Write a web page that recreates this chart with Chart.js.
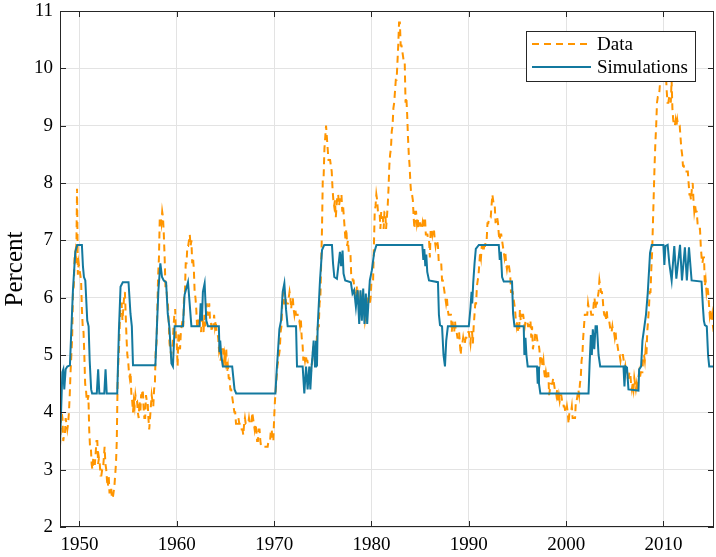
<!DOCTYPE html>
<html>
<head>
<meta charset="utf-8">
<script src="https://cdn.jsdelivr.net/npm/chart.js@4.4.0/dist/chart.umd.min.js"></script>
<style>
  html, body { margin: 0; padding: 0; background: #fff; }
  #wrap { width: 716px; height: 557px; position: relative; }
</style>
</head>
<body>
<div id="wrap"><canvas id="unempChart"></canvas></div>
<script>
// Monthly unemployment rate, Jan 1948 .. Mar 2015 (percent)
const startYear = 1948;
const unemploymentRate = [
  3.4, 3.8, 4.0, 3.9, 3.5, 3.6, 3.6, 3.9, 3.8, 3.7, 3.8, 4.0,   // 1948
  4.3, 4.7, 5.0, 5.3, 6.1, 6.2, 6.7, 6.8, 6.6, 7.9, 6.4, 6.6,   // 1949
  6.5, 6.4, 6.3, 5.8, 5.5, 5.4, 5.0, 4.5, 4.4, 4.2, 4.2, 4.3,
  3.7, 3.4, 3.4, 3.1, 3.0, 3.2, 3.1, 3.1, 3.3, 3.5, 3.5, 3.1,
  3.2, 3.1, 2.9, 2.9, 3.0, 3.0, 3.2, 3.4, 3.1, 3.0, 2.8, 2.7,
  2.9, 2.6, 2.6, 2.7, 2.5, 2.5, 2.6, 2.7, 2.9, 3.1, 3.5, 4.5,
  4.9, 5.2, 5.7, 5.9, 5.9, 5.6, 5.8, 6.0, 6.1, 5.7, 5.3, 5.0,
  4.9, 4.7, 4.6, 4.7, 4.3, 4.2, 4.0, 4.2, 4.1, 4.3, 4.2, 4.2,
  4.0, 3.9, 4.2, 4.0, 4.3, 4.3, 4.4, 4.1, 3.9, 3.9, 4.3, 4.2,
  4.2, 3.9, 3.7, 3.9, 4.1, 4.3, 4.2, 4.1, 4.4, 4.5, 5.1, 5.2,
  5.8, 6.4, 6.7, 7.4, 7.4, 7.3, 7.5, 7.4, 7.1, 6.7, 6.2, 6.2,
  6.0, 5.9, 5.6, 5.2, 5.1, 5.0, 5.1, 5.2, 5.5, 5.7, 5.8, 5.3,
  5.2, 4.8, 5.4, 5.2, 5.1, 5.4, 5.5, 5.6, 5.5, 6.1, 6.1, 6.6,   // 1960
  6.6, 6.9, 6.9, 7.0, 7.1, 6.9, 7.0, 6.6, 6.7, 6.5, 6.1, 6.0,
  5.8, 5.5, 5.6, 5.6, 5.5, 5.5, 5.4, 5.7, 5.6, 5.4, 5.7, 5.5,
  5.7, 5.9, 5.7, 5.7, 5.9, 5.6, 5.6, 5.4, 5.5, 5.5, 5.7, 5.5,
  5.6, 5.4, 5.4, 5.3, 5.1, 5.2, 4.9, 5.0, 5.1, 5.1, 4.8, 5.0,
  4.9, 5.1, 4.7, 4.8, 4.6, 4.6, 4.4, 4.4, 4.3, 4.2, 4.1, 4.0,
  4.0, 3.8, 3.8, 3.8, 3.9, 3.8, 3.8, 3.8, 3.7, 3.7, 3.6, 3.8,
  3.9, 3.8, 3.8, 3.8, 3.8, 3.9, 3.8, 3.8, 3.8, 4.0, 3.9, 3.8,
  3.7, 3.8, 3.7, 3.5, 3.5, 3.7, 3.7, 3.5, 3.4, 3.4, 3.4, 3.4,
  3.4, 3.4, 3.4, 3.4, 3.4, 3.5, 3.5, 3.5, 3.7, 3.7, 3.5, 3.5,
  3.9, 4.2, 4.4, 4.6, 4.8, 4.9, 5.0, 5.1, 5.4, 5.5, 5.9, 6.1,   // 1970
  5.9, 5.9, 6.0, 5.9, 5.9, 5.9, 6.0, 6.1, 6.0, 5.8, 6.0, 6.0,
  5.8, 5.7, 5.8, 5.7, 5.7, 5.7, 5.6, 5.6, 5.5, 5.6, 5.3, 5.2,
  4.9, 5.0, 4.9, 5.0, 4.9, 4.9, 4.8, 4.8, 4.8, 4.6, 4.8, 4.9,
  5.1, 5.2, 5.1, 5.1, 5.1, 5.4, 5.5, 5.5, 5.9, 6.0, 6.6, 7.2,
  8.1, 8.1, 8.6, 8.8, 9.0, 8.8, 8.6, 8.4, 8.4, 8.4, 8.3, 8.2,
  7.9, 7.7, 7.6, 7.7, 7.4, 7.6, 7.8, 7.8, 7.6, 7.7, 7.8, 7.8,
  7.5, 7.6, 7.4, 7.2, 7.0, 7.2, 6.9, 7.0, 6.8, 6.8, 6.8, 6.4,
  6.4, 6.3, 6.3, 6.1, 6.0, 5.9, 6.2, 5.9, 6.0, 5.8, 5.9, 6.0,
  5.9, 5.9, 5.8, 5.8, 5.6, 5.7, 5.7, 6.0, 5.9, 6.0, 5.9, 6.0,
  6.3, 6.3, 6.3, 6.9, 7.5, 7.6, 7.8, 7.7, 7.5, 7.5, 7.5, 7.2,   // 1980
  7.5, 7.4, 7.4, 7.2, 7.5, 7.5, 7.2, 7.4, 7.6, 7.9, 8.3, 8.5,
  8.6, 8.9, 9.0, 9.3, 9.4, 9.6, 9.8, 9.8, 10.1, 10.4, 10.8, 10.8,
  10.4, 10.4, 10.3, 10.2, 10.1, 10.1, 9.4, 9.5, 9.2, 8.8, 8.5, 8.3,
  8.0, 7.8, 7.8, 7.7, 7.4, 7.2, 7.5, 7.5, 7.3, 7.4, 7.2, 7.3,
  7.3, 7.2, 7.2, 7.3, 7.2, 7.4, 7.4, 7.1, 7.1, 7.1, 7.0, 7.0,
  6.7, 7.2, 7.2, 7.1, 7.2, 7.2, 7.0, 6.9, 7.0, 7.0, 6.9, 6.6,
  6.6, 6.6, 6.6, 6.3, 6.3, 6.2, 6.1, 6.0, 5.9, 6.0, 5.8, 5.7,
  5.7, 5.7, 5.7, 5.4, 5.6, 5.4, 5.4, 5.6, 5.4, 5.4, 5.3, 5.3,
  5.4, 5.2, 5.0, 5.2, 5.2, 5.3, 5.2, 5.2, 5.3, 5.3, 5.4, 5.4,
  5.4, 5.3, 5.2, 5.4, 5.4, 5.2, 5.5, 5.7, 5.9, 5.9, 6.2, 6.3,   // 1990
  6.4, 6.6, 6.8, 6.7, 6.9, 6.9, 6.8, 6.9, 6.9, 7.0, 7.0, 7.3,
  7.3, 7.4, 7.4, 7.4, 7.6, 7.8, 7.7, 7.6, 7.6, 7.3, 7.4, 7.4,
  7.3, 7.1, 7.0, 7.1, 7.1, 7.0, 6.9, 6.8, 6.7, 6.8, 6.6, 6.5,
  6.6, 6.6, 6.5, 6.4, 6.1, 6.1, 6.1, 6.0, 5.9, 5.8, 5.6, 5.5,
  5.6, 5.4, 5.4, 5.8, 5.6, 5.6, 5.7, 5.7, 5.6, 5.5, 5.6, 5.6,
  5.6, 5.5, 5.5, 5.6, 5.6, 5.3, 5.5, 5.1, 5.2, 5.2, 5.4, 5.4,
  5.3, 5.2, 5.2, 5.1, 4.9, 5.0, 4.9, 4.8, 4.9, 4.7, 4.6, 4.7,
  4.6, 4.6, 4.7, 4.3, 4.4, 4.5, 4.5, 4.5, 4.6, 4.5, 4.4, 4.4,
  4.3, 4.4, 4.2, 4.3, 4.2, 4.3, 4.3, 4.2, 4.2, 4.1, 4.1, 4.0,
  4.0, 4.1, 4.0, 3.8, 4.0, 4.0, 4.0, 4.1, 3.9, 3.9, 3.9, 3.9,   // 2000
  4.2, 4.2, 4.3, 4.4, 4.3, 4.5, 4.6, 4.9, 5.0, 5.3, 5.5, 5.7,
  5.7, 5.7, 5.7, 5.9, 5.8, 5.8, 5.8, 5.7, 5.7, 5.7, 5.9, 6.0,
  5.8, 5.9, 5.9, 6.0, 6.1, 6.3, 6.2, 6.1, 6.1, 6.0, 5.8, 5.7,
  5.7, 5.6, 5.8, 5.6, 5.6, 5.6, 5.5, 5.4, 5.4, 5.5, 5.4, 5.4,
  5.3, 5.4, 5.2, 5.2, 5.1, 5.0, 5.0, 4.9, 5.0, 5.0, 5.0, 4.9,
  4.7, 4.8, 4.7, 4.7, 4.6, 4.6, 4.7, 4.7, 4.5, 4.4, 4.5, 4.4,
  4.6, 4.5, 4.4, 4.5, 4.4, 4.6, 4.7, 4.6, 4.7, 4.7, 4.7, 5.0,
  5.0, 4.9, 5.1, 5.0, 5.4, 5.6, 5.8, 6.1, 6.1, 6.5, 6.8, 7.3,
  7.8, 8.3, 8.7, 9.0, 9.4, 9.5, 9.5, 9.6, 9.8, 10.0, 9.9, 9.9,
  9.8, 9.8, 9.9, 9.9, 9.6, 9.4, 9.4, 9.5, 9.5, 9.4, 9.8, 9.3,   // 2010
  9.1, 9.0, 9.0, 9.1, 9.0, 9.1, 9.0, 9.0, 9.0, 8.8, 8.6, 8.5,
  8.3, 8.3, 8.2, 8.2, 8.2, 8.2, 8.2, 8.0, 7.8, 7.8, 7.7, 7.9,
  8.0, 7.7, 7.5, 7.6, 7.5, 7.5, 7.3, 7.2, 7.2, 7.2, 6.9, 6.7,
  6.6, 6.7, 6.7, 6.2, 6.3, 6.1, 6.2, 6.1, 5.9, 5.7, 5.8, 5.6,
  5.7, 5.5, 5.4                                                   // 2015
];

// Simulated path: turning points
const simYears = [
  1948.00, 1948.24, 1948.34, 1948.44, 1948.58, 1948.75, 1949.02, 1949.16, 1949.33, 1949.57,
  1949.77, 1950.25, 1950.36, 1950.46, 1950.60, 1950.80, 1950.94, 1951.05, 1951.20, 1951.30,
  1951.78, 1951.92, 1952.04, 1952.55, 1952.68, 1952.80, 1953.88, 1954.05, 1954.22, 1954.45,
  1955.04, 1955.24, 1955.38, 1955.50, 1957.80, 1957.94, 1958.11, 1958.31, 1958.48, 1958.66,
  1958.90, 1959.07, 1959.24, 1959.45, 1959.60, 1959.78, 1960.63, 1960.80, 1961.15, 1961.32,
  1961.50, 1962.34, 1962.45, 1962.58, 1962.68, 1962.86, 1963.03, 1963.20, 1964.32, 1964.39,
  1964.46, 1964.56, 1964.73, 1965.69, 1965.93, 1966.10, 1970.13, 1970.27, 1970.37, 1970.54,
  1970.71, 1970.88, 1971.05, 1971.22, 1971.39, 1972.25, 1972.35, 1972.93, 1973.10, 1973.28,
  1973.44, 1973.61, 1973.72, 1973.85, 1974.06, 1974.20, 1974.30, 1974.40, 1974.47, 1974.71,
  1974.92, 1975.15, 1975.94, 1976.05, 1976.18, 1976.45, 1976.76, 1976.88, 1977.03, 1977.13,
  1977.30, 1977.88, 1978.05, 1978.22, 1978.40, 1978.57, 1978.74, 1978.87, 1979.01, 1979.15,
  1979.28, 1979.42, 1979.56, 1979.70, 1979.83, 1980.04, 1980.27, 1980.51, 1985.22, 1985.33,
  1985.43, 1985.53, 1985.63, 1985.73, 1985.91, 1986.83, 1986.93, 1987.04, 1987.25, 1987.40,
  1987.55, 1987.68, 1987.85, 1990.00, 1990.18, 1990.28, 1990.35, 1990.45, 1990.59, 1990.72,
  1991.03, 1993.08, 1993.18, 1993.29, 1993.42, 1993.59, 1994.44, 1994.55, 1994.69, 1995.64,
  1995.71, 1995.82, 1995.92, 1996.05, 1997.00, 1997.08, 1997.15, 1997.21, 1997.35, 2002.30,
  2002.41, 2002.54, 2002.64, 2002.74, 2002.89, 2003.02, 2003.16, 2003.33, 2003.50, 2005.89,
  2005.99, 2006.10, 2006.25, 2006.40, 2007.43, 2007.50, 2007.70, 2007.84, 2008.04, 2008.20,
  2008.38, 2008.62, 2008.79, 2009.99, 2010.09, 2010.20, 2010.43, 2010.60, 2010.84, 2011.11,
  2011.32, 2011.70, 2011.90, 2012.20, 2012.40, 2012.62, 2012.89, 2013.91, 2014.05, 2014.15,
  2014.25, 2014.45, 2014.58, 2014.70, 2015.19
];
const simRates = [
  3.42, 4.70, 4.75, 4.40, 4.75, 4.80, 4.82, 5.42, 6.13, 6.80,
  6.92, 6.92, 6.54, 6.36, 6.30, 5.60, 5.50, 4.90, 4.40, 4.33,
  4.33, 4.75, 4.33, 4.33, 4.75, 4.33, 4.33, 5.42, 6.19, 6.27,
  6.27, 5.72, 5.50, 4.82, 4.82, 5.42, 6.13, 6.60, 6.36, 6.30,
  6.27, 5.72, 5.48, 4.85, 4.80, 5.50, 5.50, 6.05, 6.27, 5.90,
  5.50, 5.50, 5.90, 5.60, 6.10, 6.25, 5.60, 5.50, 5.50, 5.05,
  5.25, 5.00, 4.80, 4.80, 4.40, 4.33, 4.33, 4.75, 5.00, 5.45,
  5.60, 6.10, 6.25, 5.80, 5.50, 5.50, 4.80, 4.80, 4.33, 4.80,
  4.40, 4.80, 4.40, 4.80, 5.25, 4.80, 5.25, 4.80, 5.48, 6.30,
  6.83, 6.92, 6.92, 6.60, 6.36, 6.33, 6.80, 6.55, 6.82, 6.42,
  6.30, 6.27, 6.07, 6.13, 5.84, 6.13, 5.54, 6.13, 5.60, 6.16,
  5.54, 6.07, 5.54, 5.95, 6.30, 6.48, 6.78, 6.92, 6.92, 6.66,
  6.85, 6.55, 6.75, 6.45, 6.30, 6.27, 5.70, 5.52, 5.50, 5.00,
  4.80, 5.25, 5.50, 5.50, 5.84, 6.10, 5.90, 6.25, 6.60, 6.85,
  6.92, 6.92, 6.66, 6.80, 6.36, 6.28, 6.28, 5.72, 5.50, 5.50,
  5.00, 5.30, 5.00, 4.80, 4.80, 4.50, 4.80, 4.50, 4.33, 4.33,
  4.85, 5.35, 5.00, 5.45, 5.10, 5.50, 5.50, 5.00, 4.80, 4.80,
  4.45, 4.80, 4.78, 4.40, 4.38, 4.75, 4.80, 5.25, 5.50, 5.70,
  6.07, 6.78, 6.92, 6.92, 6.57, 6.90, 6.92, 6.60, 6.30, 6.90,
  6.33, 6.92, 6.30, 6.88, 6.30, 6.88, 6.30, 6.28, 5.84, 5.60,
  5.52, 5.50, 5.00, 4.80, 4.80
];

const yearTicks = [1950, 1960, 1970, 1980, 1990, 2000, 2010];
const xMin = 1948;
const xMax = 2015.19;
const yMin = 2;
const yMax = 11;

const serif = "'Liberation Serif', 'Times New Roman', serif";
const axisColor = '#262626';

const dataPoints = unemploymentRate.map((v, i) => ({ x: startYear + i / 12, y: v }));
const simPoints = simYears.map((yr, i) => ({ x: yr, y: simRates[i] }));

// MATLAB style box, inward ticks and legend inside the axes
const frameAndLegend = {
    id: 'frameAndLegend',
    afterDatasetsDraw(chart) {
        const { ctx, chartArea: a, scales: { x, y } } = chart;
        ctx.save();
        ctx.strokeStyle = axisColor;
        ctx.lineWidth = 1;
        ctx.strokeRect(a.left + 0.5, a.top + 0.5, a.right - a.left - 1, a.bottom - a.top - 1);

        const tl = 6;
        ctx.beginPath();
        x.ticks.forEach(t => {
            const px = Math.round(x.getPixelForValue(t.value)) + 0.5;
            ctx.moveTo(px, a.bottom); ctx.lineTo(px, a.bottom - tl);
            ctx.moveTo(px, a.top); ctx.lineTo(px, a.top + tl);
        });
        y.ticks.forEach(t => {
            const py = Math.round(y.getPixelForValue(t.value)) + 0.5;
            ctx.moveTo(a.left, py); ctx.lineTo(a.left + tl, py);
            ctx.moveTo(a.right, py); ctx.lineTo(a.right - tl, py);
        });
        ctx.stroke();

        // legend box
        const lx = 526, ly = 31, lw = 169, lh = 50;
        ctx.fillStyle = '#ffffff';
        ctx.fillRect(lx, ly, lw, lh);
        ctx.strokeRect(lx + 0.5, ly + 0.5, lw, lh);
        ctx.font = '19px ' + serif;
        ctx.textBaseline = 'middle';
        ctx.textAlign = 'left';
        chart.data.datasets.forEach((ds, i) => {
            const rowY = ly + 13 + i * 23;
            ctx.beginPath();
            ctx.strokeStyle = ds.borderColor;
            ctx.lineWidth = ds.borderWidth;
            ctx.setLineDash(ds.borderDash || []);
            ctx.moveTo(lx + 6, rowY);
            ctx.lineTo(lx + 65, rowY);
            ctx.stroke();
            ctx.setLineDash([]);
            ctx.fillStyle = '#000000';
            ctx.fillText(ds.label, lx + 71, rowY + 1);
        });
        ctx.restore();
    }
};

new Chart(document.getElementById('unempChart'), {
    type: 'line',
    data: {
        datasets: [{
            label: 'Data',
            data: dataPoints,
            borderColor: '#FF9500',
            borderWidth: 2,
            borderDash: [7, 5],
            pointRadius: 0,
            tension: 0,
            order: 2
        }, {
            label: 'Simulations',
            data: simPoints,
            borderColor: '#13799F',
            borderWidth: 2,
            pointRadius: 0,
            tension: 0,
            order: 1
        }]
    },
    options: {
        responsive: true,
        maintainAspectRatio: false,
        animation: false,
        devicePixelRatio: 1,
        layout: { padding: { top: 11, right: 2, bottom: 0, left: 0 } },
        plugins: {
            legend: { display: false },
            tooltip: { enabled: false }
        },
        scales: {
            x: {
                type: 'linear',
                min: xMin,
                max: xMax,
                afterBuildTicks: scale => { scale.ticks = yearTicks.map(v => ({ value: v })); },
                afterFit: scale => {
                    scale.height = 30;
                    scale.paddingLeft = 0;
                    scale.paddingRight = 0;
                },
                grid: { color: '#e3e3e3', drawTicks: false },
                border: { display: false },
                ticks: {
                    padding: 7,
                    maxRotation: 0,
                    color: '#000000',
                    font: { family: serif, size: 19 },
                    callback: v => String(v)
                }
            },
            y: {
                min: yMin,
                max: yMax,
                afterFit: scale => {
                    scale.width = 60;
                    scale.paddingTop = 0;
                    scale.paddingBottom = 0;
                },
                grid: { color: '#e3e3e3', drawTicks: false },
                border: { display: false },
                ticks: {
                    stepSize: 1,
                    padding: 7,
                    color: '#000000',
                    font: { family: serif, size: 19 }
                },
                title: {
                    display: true,
                    text: 'Percent',
                    color: '#000000',
                    padding: { top: 0, bottom: 0 },
                    font: { family: serif, size: 25 }
                }
            }
        }
    },
    plugins: [frameAndLegend]
});
</script>
</body>
</html>
